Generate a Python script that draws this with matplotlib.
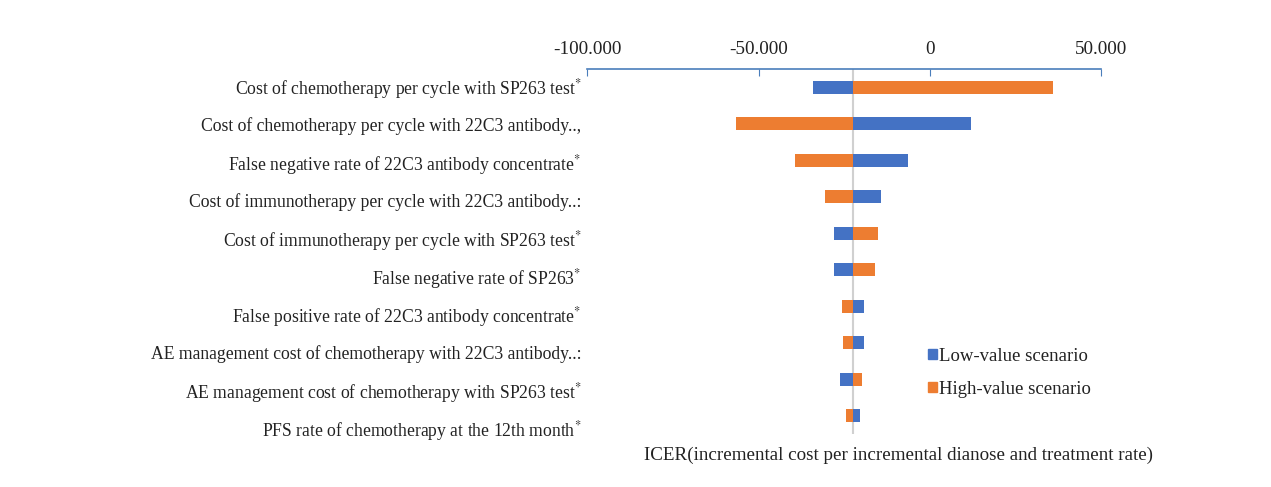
"""Tornado diagram of one-way sensitivity analysis (ICER)."""

import matplotlib
matplotlib.use("Agg")
import matplotlib.pyplot as plt
from matplotlib.patches import Patch
from matplotlib.ticker import FuncFormatter

plt.rcParams["font.family"] = ["Liberation Serif", "DejaVu Serif"]
plt.rcParams["mathtext.fontset"] = "stix"

# ── Data ─────────────────────────────────────────────────────────────────────
params = [
    "Cost of chemotherapy per cycle with SP263 test$^{*}$",
    "Cost of chemotherapy per cycle with 22C3 antibody..,",
    "False negative rate of 22C3 antibody concentrate$^{*}$",
    "Cost of immunotherapy per cycle with 22C3 antibody..:",
    "Cost of immunotherapy per cycle with SP263 test$^{*}$",
    "False negative rate of SP263$^{*}$",
    "False positive rate of 22C3 antibody concentrate$^{*}$",
    "AE management cost of chemotherapy with 22C3 antibody..:",
    "AE management cost of chemotherapy with SP263 test$^{*}$",
    "PFS rate of chemotherapy at the 12th month$^{*}$",
]
base_icer = -22500
low_values = [-34100, 11900, -6500, -14300, -27900, -28100, -19300, -19300, -26100, -20400]
high_values = [35800, -56600, -39400, -30600, -15200, -16100, -25800, -25500, -19800, -24500]

BLUE = "#4472C4"
ORANGE = "#ED7D31"
TXT = "#222222"


def dot_thousands(v, pos):
    # European style: 50.000, -100.000
    return "0" if v == 0 else f"{v:,.0f}".replace(",", ".")


# ── Figure ───────────────────────────────────────────────────────────────────
fig = plt.figure(figsize=(12.71, 4.87), dpi=100)
ax = fig.add_axes([0.4619, 0.1088, 0.4047, 0.7495])

y = list(range(len(params)))
low_w = [v - base_icer for v in low_values]
high_w = [v - base_icer for v in high_values]
ax.barh(y, low_w, left=base_icer, height=0.36, color=BLUE)
ax.barh(y, high_w, left=base_icer, height=0.36, color=ORANGE)
ax.axvline(base_icer, color="#d0d0d0", linewidth=1.5, zorder=0)

ax.set_xlim(-100000, 50000)
ax.set_ylim(len(params) - 0.5, -0.5)
ax.set_xticks([-100000, -50000, 0, 50000])
ax.xaxis.set_major_formatter(FuncFormatter(dot_thousands))
ax.xaxis.tick_top()
ax.tick_params(axis="x", direction="in", length=5, color="#4a7ebb", labelsize=13.8, pad=8, labelcolor=TXT)

# category labels in the reference sit on a slightly wider pitch than the bars
label_step = 1.041
ax.set_yticks([-0.03 + label_step * i for i in y])
ax.set_yticklabels(params, fontsize=12.7, color=TXT)
ax.tick_params(axis="y", length=0, pad=4)

for side in ["left", "right", "bottom"]:
    ax.spines[side].set_visible(False)
ax.spines["top"].set_color("#4a7ebb")
ax.spines["top"].set_linewidth(1.2)

handles = [Patch(color=BLUE), Patch(color=ORANGE)]
fig.legend(handles, ["Low-value scenario", "High-value scenario"],
           loc="upper left", bbox_to_anchor=(0.717, 0.32), frameon=False,
           fontsize=13.5, handlelength=0.45, handleheight=0.45, handletextpad=0.15,
           labelspacing=0.85, labelcolor=TXT)

fig.text(0.707, 0.065, "ICER(incremental cost per incremental dianose and treatment rate)",
         ha="center", va="center", fontsize=13.7, color=TXT)

plt.savefig("out.png", dpi=100, facecolor="white")
